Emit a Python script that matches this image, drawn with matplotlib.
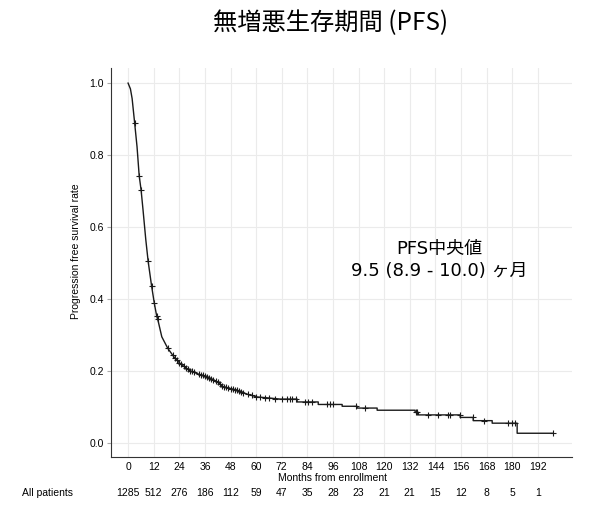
import numpy as np
import matplotlib
matplotlib.use("Agg")
import matplotlib.pyplot as plt

plt.rcParams['font.family'] = ['Liberation Sans', 'Noto Sans CJK JP', 'DejaVu Sans']

# PFS curve (months, survival rate)
t_curve = [0, 1.1, 1.9, 3.1, 4.2, 5.2, 6.1, 7.0, 8.3, 9.4,
           11.0, 12.3, 13.4, 14.2, 15.8, 18.6, 22.0, 24.4, 28.3, 32.2,
           36.9, 41.6, 44.7, 51.0, 55.6, 60.3, 66.0, 71.2, 79.2, 79.2,
           89.1, 89.1, 100.3, 100.3, 107.3, 107.3, 116.7, 116.7, 134.5, 134.5,
           136.0, 136.0, 155.6, 155.6, 161.7, 161.7, 170.6, 170.6, 182.3, 182.3,
           199.2]
s_curve = [1.0, 0.984, 0.957, 0.888, 0.823, 0.743, 0.703, 0.648, 0.565, 0.505,
           0.437, 0.388, 0.353, 0.336, 0.295, 0.263, 0.235, 0.221, 0.203, 0.193,
           0.184, 0.170, 0.156, 0.147, 0.136, 0.128, 0.125, 0.122, 0.122, 0.114,
           0.114, 0.107, 0.107, 0.102, 0.102, 0.097, 0.097, 0.091, 0.091, 0.085,
           0.085, 0.078, 0.078, 0.071, 0.071, 0.062, 0.062, 0.055, 0.055, 0.027,
           0.027]

# censored times
censor_t = [3.1, 5.2, 6.1, 9.4, 11.0, 12.3, 13.4, 13.8, 18.6,
            21, 22, 23, 24, 25, 26, 27, 28, 29, 30, 31, 33, 34, 35, 36, 37,
            38, 39, 40, 41, 42, 43, 44, 45, 46, 47, 48, 49, 50, 51, 52, 53,
            54, 56, 58, 60, 62, 64, 66, 69, 72, 74.5, 76, 77, 78.5, 83, 84.5,
            86, 93, 94.5, 96, 107, 111, 134.7, 135.5, 140.6, 145, 150, 151,
            155.3, 161.4, 167, 178, 180, 181.5, 199.2]

month_ticks = [0, 12, 24, 36, 48, 60, 72, 84, 96, 108, 120, 132, 144, 156, 168, 180, 192]
at_risk = [1285, 512, 276, 186, 112, 59, 47, 35, 28, 23, 21, 21, 15, 12, 8, 5, 1]

fig = plt.figure(figsize=(6.02, 5.19), dpi=100)
ax = fig.add_axes([111/602, 1-457/519, (572-111)/602, (457-68)/519])

ax.plot(t_curve, s_curve, color='#1a1a1a', lw=1.0)
censor_s = np.interp(censor_t, t_curve, s_curve)
ax.plot(censor_t, censor_s, ls='none', marker='+', ms=5, mew=0.8, color='#1a1a1a')

ax.set_xlim(-8, 208)
ax.set_ylim(-0.039, 1.042)
ax.set_xticks(month_ticks)
ax.set_yticks([0.0, 0.2, 0.4, 0.6, 0.8, 1.0])
ax.set_yticklabels(['0.0', '0.2', '0.4', '0.6', '0.8', '1.0'])
ax.grid(True, color='#ebebeb', lw=0.8)
ax.set_axisbelow(True)
for sp in ['top', 'right']:
    ax.spines[sp].set_visible(False)
for sp in ['left', 'bottom']:
    ax.spines[sp].set_color('#333333')
    ax.spines[sp].set_linewidth(0.8)
ax.tick_params(axis='y', length=3, color='#aaaaaa', labelsize=7.5, pad=2)
ax.tick_params(axis='x', length=0, labelsize=7.5, pad=3.5)
ax.set_ylabel('Progression free survival rate', fontsize=7.5)
ax.yaxis.set_label_coords(-0.064, 0.53)

ax.text(96, -0.053, 'Months from enrollment', transform=ax.get_xaxis_transform(),
        ha='center', va='center', fontsize=7.5)

# number at risk
for m, n in zip(month_ticks, at_risk):
    ax.text(m, -0.0925, str(n), transform=ax.get_xaxis_transform(),
            ha='center', va='center', fontsize=7.5)
fig.text(22/602, 1-493/519, 'All patients', ha='left', va='center', fontsize=7.5)

ax.text(146, 0.508, 'PFS中央値\n9.5 (8.9 - 10.0) ヶ月', ha='center', va='center',
        fontsize=13, family=['DejaVu Sans', 'Noto Sans CJK JP'], linespacing=1.3)

fig.text(331/602, 1-23/519, '無増悪生存期間 (PFS)', ha='center', va='center',
         fontsize=17.5, family=['Noto Sans CJK JP', 'DejaVu Sans'])

fig.savefig('out.png', dpi=100)
